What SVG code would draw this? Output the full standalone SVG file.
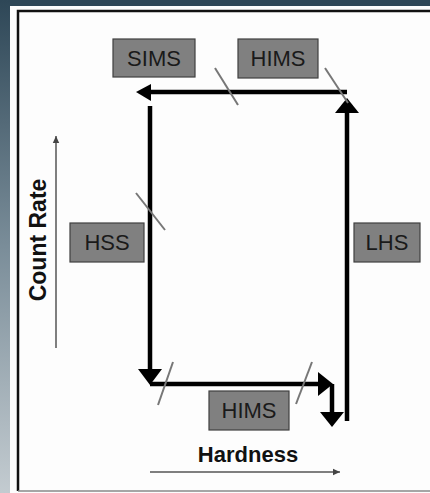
<svg xmlns="http://www.w3.org/2000/svg" width="430" height="493" viewBox="0 0 430 493">
<defs>
<linearGradient id="side" x1="0" y1="0" x2="0" y2="1">
<stop offset="0" stop-color="#2e4757"/>
<stop offset="0.5" stop-color="#7a8d99"/>
<stop offset="1" stop-color="#c3cbd0"/>
</linearGradient>
<marker id="thin" markerWidth="8" markerHeight="8" refX="7" refY="4" orient="auto" markerUnits="userSpaceOnUse">
<path d="M0,0.8 L7,4 L0,7.2 Z" fill="#444"/>
</marker>
<style>
.box{fill:#808080;stroke:#404040;stroke-width:1.2}
.lbl{font-family:"Liberation Sans",Arial,sans-serif;font-size:22px;fill:#1a1a1a;text-anchor:middle}
.ax{font-family:"Liberation Sans",Arial,sans-serif;font-weight:bold;fill:#111;text-anchor:middle}
.thick{stroke:#000;stroke-width:4.5;fill:none}
.head{fill:#000}
.tick{stroke:#777;stroke-width:2;fill:none}
.axis{stroke:#555;stroke-width:1.5;fill:none}
</style>
</defs>
<rect x="0" y="0" width="430" height="493" fill="#2e4757"/>
<rect x="0" y="0" width="10" height="493" fill="url(#side)"/>
<rect x="10" y="6" width="420" height="487" fill="#fdfdfd"/>
<path d="M18,491 L18,11 L430,11" fill="none" stroke="#111" stroke-width="2.5"/>
<line x1="18" y1="491" x2="430" y2="491" stroke="#888" stroke-width="1.5"/>

<g id="connectors">
<line class="thick" x1="347" y1="92" x2="150" y2="92"/>
<polygon class="head" points="136,92 151,84 151,101"/>
<line class="thick" x1="150" y1="106" x2="150" y2="370"/>
<polygon class="head" points="150,385 138,369 162,369"/>
<line class="thick" x1="150" y1="384" x2="319" y2="384"/>
<polygon class="head" points="333,384 318,372 318,396"/>
<line class="thick" x1="332" y1="384" x2="332" y2="413"/>
<polygon class="head" points="332,427 320,412 344,412"/>
<line class="thick" x1="347" y1="421" x2="347" y2="112"/>
<polygon class="head" points="347,98 335,113 359,113"/>
<line class="tick" x1="215" y1="68" x2="238" y2="105"/>
<line class="tick" x1="325" y1="68" x2="348" y2="103"/>
<line class="tick" x1="136" y1="193" x2="165" y2="230"/>
<line class="tick" x1="173" y1="362" x2="158" y2="405"/>
<line class="tick" x1="312" y1="362" x2="296" y2="404"/>
<line class="axis" x1="56" y1="348" x2="56" y2="136" marker-end="url(#thin)"/>
<line class="axis" x1="150" y1="472" x2="340" y2="472" marker-end="url(#thin)"/>
</g>

<g id="sims"><rect class="box" x="113" y="39" width="82" height="38"/><text class="lbl" x="154" y="66">SIMS</text></g>
<g id="hims-top"><rect class="box" x="238" y="39" width="80" height="39"/><text class="lbl" x="278" y="66">HIMS</text></g>
<g id="hss"><rect class="box" x="70" y="223" width="74" height="39"/><text class="lbl" x="107" y="250">HSS</text></g>
<g id="lhs"><rect class="box" x="354" y="223" width="66" height="39"/><text class="lbl" x="387" y="250">LHS</text></g>
<g id="hims-bottom"><rect class="box" x="209" y="391" width="80" height="39"/><text class="lbl" x="249" y="418">HIMS</text></g>
<g id="hardness"><text class="ax" x="248" y="462" font-size="22">Hardness</text></g>
<g id="count-rate"><text class="ax" x="0" y="0" font-size="23" transform="translate(46,240) rotate(-90)">Count Rate</text></g>
</svg>
